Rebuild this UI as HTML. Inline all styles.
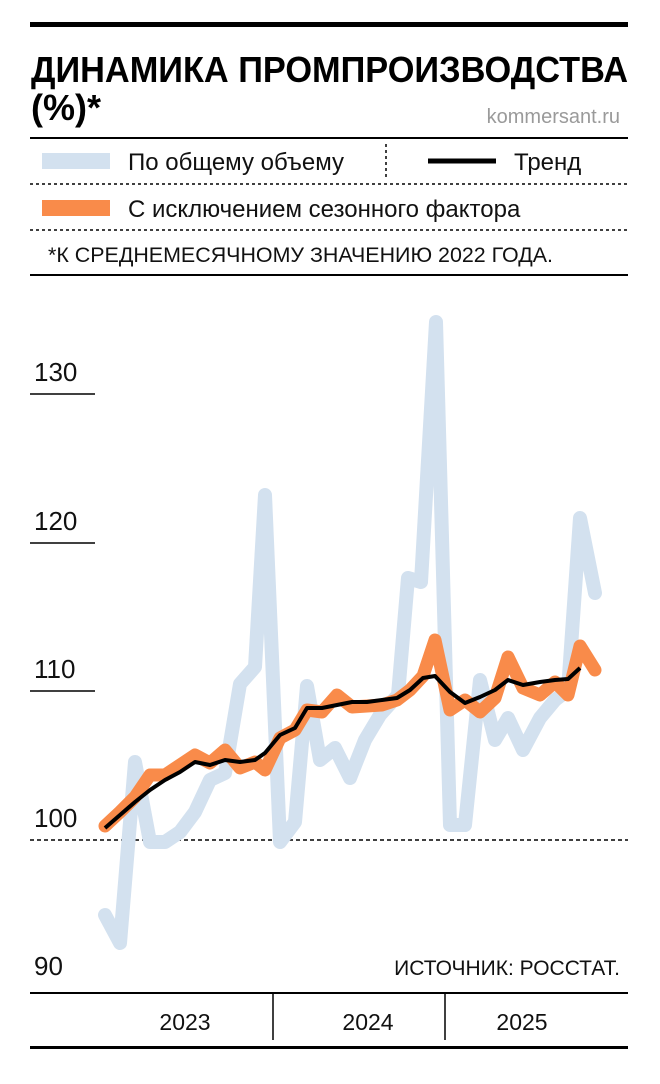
<!DOCTYPE html>
<html><head><meta charset="utf-8"><style>
body{margin:0;width:660px;height:1079px;background:#fff;font-family:"Liberation Sans",sans-serif;overflow:hidden}
</style></head><body>
<svg width="660" height="1079" viewBox="0 0 660 1079" xmlns="http://www.w3.org/2000/svg" font-family="Liberation Sans, sans-serif">
<rect x="30" y="22" width="598" height="5" fill="#000"/>
<text x="31" y="82" font-size="36" font-weight="bold" textLength="597" lengthAdjust="spacingAndGlyphs">ДИНАМИКА ПРОМПРОИЗВОДСТВА</text>
<text x="31" y="120" font-size="36" font-weight="bold">(%)*</text>
<text x="620" y="123" font-size="20" fill="#9a9a9a" text-anchor="end">kommersant.ru</text>
<line x1="30" y1="138" x2="628" y2="138" stroke="#000" stroke-width="2"/>
<line x1="42" y1="161" x2="110" y2="161" stroke="#d3e1ef" stroke-width="16"/>
<text x="128" y="170" font-size="24" fill="#111">По общему объему</text>
<line x1="386" y1="144" x2="386" y2="178" stroke="#000" stroke-width="1.5" stroke-dasharray="3,3"/>
<line x1="428" y1="161" x2="496" y2="161" stroke="#000" stroke-width="5"/>
<text x="514" y="170" font-size="24" fill="#111">Тренд</text>
<line x1="30" y1="184" x2="628" y2="184" stroke="#000" stroke-width="1.5" stroke-dasharray="3,3"/>
<line x1="42" y1="208" x2="110" y2="208" stroke="#f98b4a" stroke-width="16"/>
<text x="128" y="217" font-size="24" fill="#111">С исключением сезонного фактора</text>
<line x1="30" y1="230" x2="628" y2="230" stroke="#000" stroke-width="1.5" stroke-dasharray="3,3"/>
<text x="48" y="262" font-size="21" fill="#111" textLength="505" lengthAdjust="spacingAndGlyphs">*К СРЕДНЕМЕСЯЧНОМУ ЗНАЧЕНИЮ 2022 ГОДА.</text>
<line x1="30" y1="275" x2="628" y2="275" stroke="#000" stroke-width="2"/>
<g font-size="26" fill="#111">
<text x="34" y="381">130</text><text x="34" y="530">120</text><text x="34" y="678">110</text><text x="34" y="827">100</text><text x="34" y="975">90</text>
</g>
<g stroke="#000" stroke-width="1.5">
<line x1="30" y1="394" x2="95" y2="394"/><line x1="30" y1="543" x2="95" y2="543"/><line x1="30" y1="691" x2="95" y2="691"/>
<line x1="30" y1="840" x2="628" y2="840" stroke-dasharray="4,3"/>
</g>
<polyline fill="none" stroke="#d3e1ef" stroke-width="14" stroke-linejoin="round" stroke-linecap="round" points="105,915 120,943 135,762 150,842 165,842 180,832 195,812 210,780 225,773 240,684 255,667 265,495 280,842 295,822 307,686 320,760 335,748 350,778 365,740 380,715 398,695 408,578 421,582 436,322 450,825 465,825 480,680 495,740 508,718 523,750 540,718 555,700 568,690 580,518 595,593"/>
<polyline fill="none" stroke="#f98b4a" stroke-width="13" stroke-linejoin="round" stroke-linecap="round" points="105,826 120,812 135,797 150,775 165,775 180,765 195,755 210,763 225,750 240,768 255,762 265,770 280,738 295,730 307,710 322,712 337,695 352,707 367,706 382,705 397,700 410,690 423,676 435,640 450,710 465,700 480,712 495,698 508,657 523,688 540,695 555,682 568,695 580,646 595,670"/>
<polyline fill="none" stroke="#000" stroke-width="4" stroke-linejoin="round" points="105,828 120,815 135,802 150,790 165,780 180,772 195,762 210,765 225,760 240,762 255,760 265,753 280,735 295,728 307,708 322,708 337,705 352,702 367,702 382,700 397,698 410,690 423,678 435,676 450,692 465,703 480,697 495,690 508,680 523,685 540,682 555,680 568,679 580,668"/>
<text x="620" y="975" font-size="21" fill="#111" text-anchor="end">ИСТОЧНИК: РОССТАТ.</text>
<line x1="30" y1="993" x2="628" y2="993" stroke="#000" stroke-width="2"/>
<line x1="273" y1="993" x2="273" y2="1040" stroke="#000" stroke-width="1.5"/>
<line x1="445" y1="993" x2="445" y2="1040" stroke="#000" stroke-width="1.5"/>
<g font-size="23" fill="#111" text-anchor="middle">
<text x="185" y="1030">2023</text><text x="368" y="1030">2024</text><text x="522" y="1030">2025</text>
</g>
<rect x="30" y="1046" width="598" height="3" fill="#000"/>
</svg>
</body></html>
